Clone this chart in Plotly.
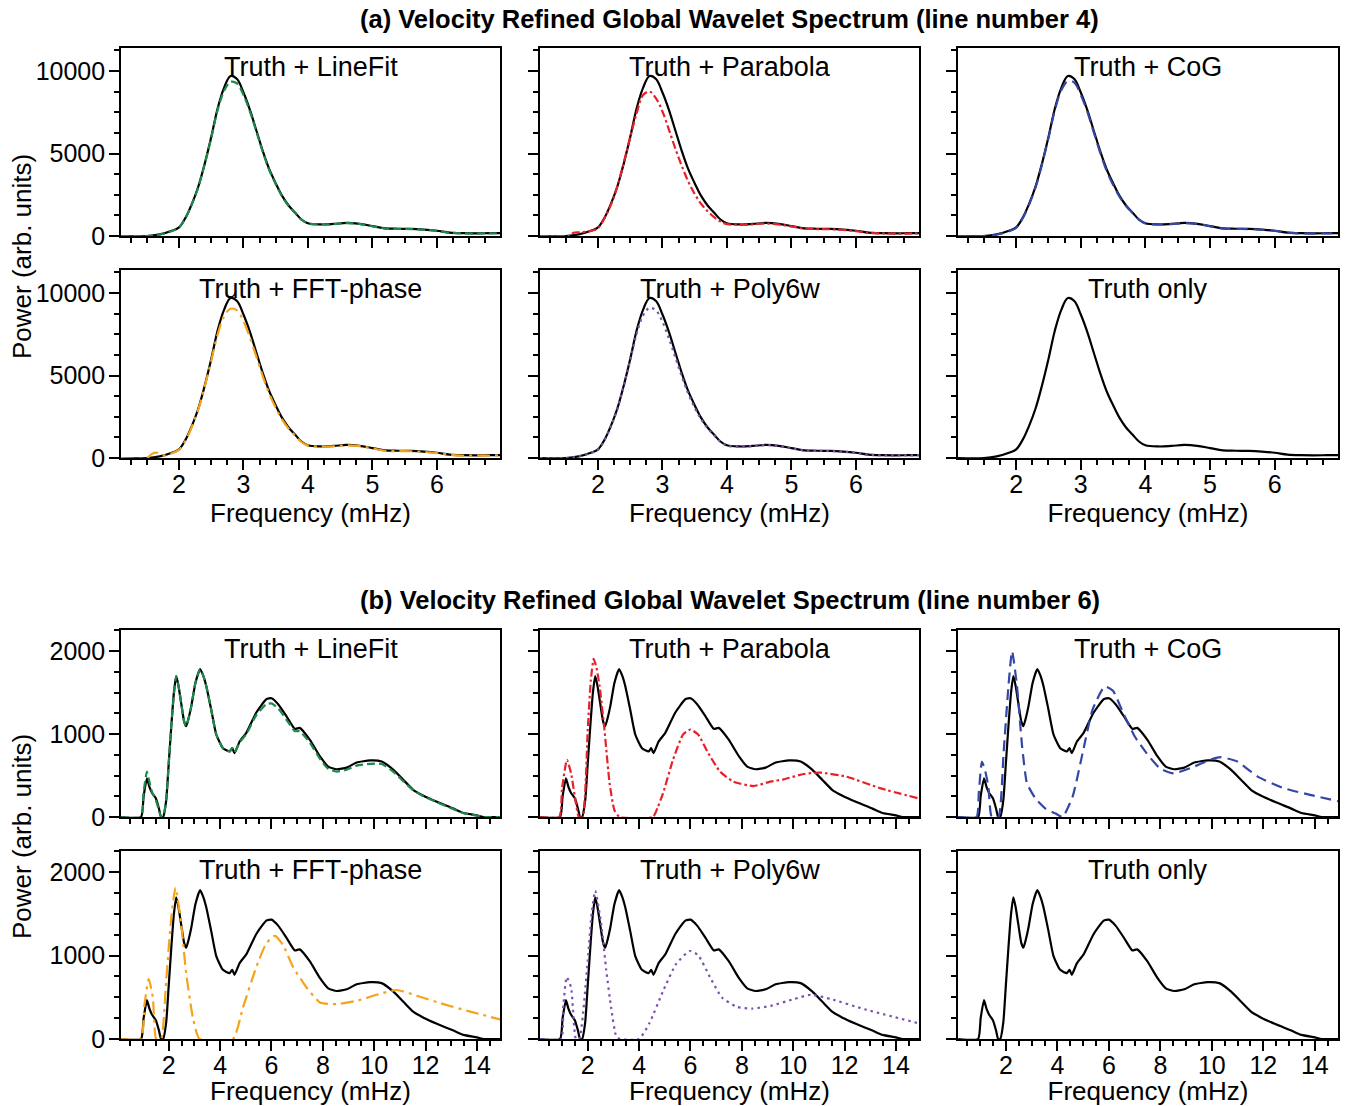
import plotly.graph_objects as go
from plotly.subplots import make_subplots

# ---------------- Data: line number 4 ----------------
freq4 = [1.1, 1.5, 1.7, 1.9, 2.0, 2.1, 2.2, 2.3, 2.4, 2.5, 2.6, 2.7, 2.8, 2.9, 3.0, 3.1, 3.2, 3.3, 3.4, 3.5,
         3.6, 3.7, 3.8, 3.9, 4.0, 4.2, 4.4, 4.6, 4.8, 5.0, 5.2, 5.4, 5.6, 5.8, 6.0, 6.2, 6.4, 6.6, 6.8, 6.98]
truth4 = [0, 0, 100, 330, 520, 1100, 1950, 3000, 4400, 6000, 7750, 9000, 9700, 9520, 8700, 7650, 6400, 5150, 4050, 3200,
          2430, 1850, 1420, 1000, 770, 700, 730, 790, 740, 600, 460, 440, 430, 390, 320, 210, 170, 160, 170, 180]
linefit4 = [0, 0, 90, 320, 510, 1090, 1930, 2980, 4380, 5950, 7650, 8800, 9350, 9250, 8550, 7550, 6330, 5100, 4000, 3150,
            2400, 1830, 1400, 990, 760, 700, 720, 780, 730, 590, 450, 430, 420, 380, 310, 200, 160, 150, 160, 170]
cog4 = [0, 0, 90, 310, 500, 1070, 1900, 2950, 4350, 5950, 7650, 8850, 9400, 9300, 8550, 7550, 6300, 5050, 3950, 3100,
        2380, 1820, 1400, 990, 760, 700, 720, 780, 730, 590, 450, 430, 420, 380, 310, 200, 160, 150, 160, 170]
poly4 = [0, 0, 90, 320, 500, 1080, 1920, 2980, 4380, 5950, 7550, 8650, 9100, 8950, 8250, 7250, 6100, 4950, 3900, 3050,
         2350, 1800, 1380, 980, 750, 690, 720, 780, 730, 590, 450, 430, 420, 380, 310, 200, 160, 150, 160, 170]

freq_par4 = [1.1, 1.5, 1.56, 1.62, 1.75, 1.9, 2.0, 2.1, 2.2, 2.3, 2.4, 2.5, 2.6, 2.7, 2.8, 2.9, 3.0, 3.1, 3.2, 3.3,
             3.4, 3.5, 3.6, 3.7, 3.8, 3.9, 4.0, 4.2, 4.4, 4.6, 4.8, 5.0, 5.2, 5.4, 5.6, 5.8, 6.0, 6.2, 6.4, 6.6, 6.8, 6.98]
par4 = [0, 0, 0, 200, 230, 320, 480, 1080, 1900, 3000, 4450, 6000, 7450, 8550, 8750, 8350, 7550, 6450, 5300, 4250,
        3300, 2550, 1950, 1500, 1150, 870, 720, 680, 710, 760, 700, 580, 450, 420, 410, 370, 300, 200, 160, 150, 150, 160]

freq_fft4 = [1.1, 1.5, 1.58, 1.65, 1.72, 1.8, 1.9, 2.0, 2.1, 2.2, 2.3, 2.4, 2.5, 2.6, 2.7, 2.8, 2.9, 3.0, 3.1, 3.2,
             3.3, 3.4, 3.5, 3.6, 3.7, 3.8, 3.9, 4.0, 4.2, 4.4, 4.6, 4.8, 5.0, 5.2, 5.4, 5.6, 5.8, 6.0, 6.2, 6.4,
             6.6, 6.8, 6.98]
fft4 = [0, 0, 250, 330, 200, 150, 300, 490, 1050, 1900, 2950, 4350, 5900, 7500, 8600, 9050, 8950, 8300, 7300, 6150,
        4950, 3900, 3050, 2330, 1780, 1370, 970, 750, 690, 710, 770, 720, 580, 440, 420, 410, 370, 300, 200, 150,
        140, 150, 160]

# ---------------- Data: line number 6 ----------------
freq6 = [0.15, 0.92, 1.02, 1.15, 1.25, 1.35, 1.5, 1.62, 1.7, 1.78, 1.9, 2.0, 2.1, 2.2, 2.29, 2.38, 2.48, 2.6, 2.68, 2.78,
         2.88, 3.04, 3.22, 3.35, 3.46, 3.65, 3.85, 4.11, 4.37, 4.47, 4.56, 4.76, 5.02, 5.41, 5.8, 6.0, 6.26, 6.58, 6.91, 7.1,
         7.49, 7.89, 8.21, 8.54, 8.93, 9.32, 9.84, 10.29, 10.75, 11.14, 11.53, 11.92, 12.44, 13.09, 13.48, 14.0, 14.27, 14.9]
truth6 = [0, 0, 250, 467, 360, 290, 223, 100, 0, 0, 200, 650, 1100, 1500, 1700, 1580, 1380, 1150, 1095, 1200,
          1340, 1620, 1785, 1700, 1580, 1300, 995, 830, 790, 830, 770, 910, 1015, 1260, 1420, 1432, 1360, 1217, 1063, 1075,
          933, 730, 608, 576, 596, 657, 682, 670, 568, 446, 325, 256, 183, 101, 49, 20, 0, 0]
linefit6 = [0, 0, 300, 548, 420, 300, 200, 80, 0, 0, 210, 660, 1110, 1480, 1700, 1580, 1380, 1150, 1095, 1200,
            1340, 1620, 1785, 1700, 1580, 1300, 995, 830, 790, 830, 780, 900, 1000, 1230, 1360, 1370, 1310, 1175, 1035, 1035,
            900, 700, 580, 548, 570, 620, 640, 640, 545, 430, 320, 250, 178, 95, 45, 18, 0, 0]

freq_par6 = [0.15, 0.89, 1.0, 1.19, 1.35, 1.54, 1.65, 1.8, 2.0, 2.12, 2.23, 2.34, 2.46, 2.65, 2.85, 3.04, 3.24, 4.54, 4.73, 4.93,
             5.32, 5.71, 6.0, 6.3, 6.69, 7.15, 7.67, 8.45, 9.11, 9.63, 10.41, 11.06, 12.07, 13.41, 14.9]
par6 = [0, 0, 350, 690, 527, 162, 0, 0, 1055, 1650, 1907, 1800, 1582, 1055, 406, 81, 0, 0, 120, 284,
        690, 994, 1055, 994, 771, 548, 426, 373, 426, 454, 519, 535, 487, 345, 223]

freq_cog6 = [0.15, 0.86, 0.95, 1.07, 1.2, 1.32, 1.45, 1.71, 1.91, 2.1, 2.24, 2.43, 2.63, 2.82, 3.15, 3.54, 3.93, 4.2, 4.59, 4.98,
             5.37, 5.84, 6.16, 6.55, 7.0, 7.46, 7.98, 8.51, 9.16, 9.93, 10.34, 10.99, 11.78, 12.82, 13.86, 14.9]
cog6 = [0, 0, 300, 669, 550, 365, 0, 0, 771, 1582, 2000, 1582, 852, 406, 223, 101, 41, 0, 243, 771,
        1298, 1575, 1521, 1258, 974, 771, 588, 527, 588, 690, 722, 669, 487, 345, 264, 190]

freq_fft6 = [0.15, 0.92, 1.05, 1.22, 1.38, 1.51, 1.7, 1.9, 2.09, 2.26, 2.48, 2.68, 2.94, 3.2, 4.5, 4.89, 5.41, 5.8, 6.13, 6.45,
             6.84, 7.36, 7.89, 8.54, 9.32, 10.1, 10.88, 11.66, 12.7, 13.74, 14.9]
fft6 = [0, 0, 400, 722, 499, 0, 0, 702, 1432, 1817, 1391, 783, 256, 0, 0, 377, 864, 1148, 1237, 1128,
        864, 621, 438, 418, 458, 531, 588, 519, 418, 329, 235]

freq_poly6 = [0.15, 0.96, 1.05, 1.18, 1.35, 1.54, 1.67, 2.0, 2.15, 2.29, 2.52, 2.72, 2.91, 3.11, 3.25, 4.0, 4.41, 4.94, 5.45, 5.97,
              6.3, 6.76, 7.22, 7.81, 8.4, 9.12, 10.03, 10.69, 11.47, 12.78, 14.95]
poly6 = [0, 0, 400, 742, 620, 0, 0, 945, 1500, 1777, 1391, 824, 377, 30, 0, 0, 195, 580, 905, 1055,
         1006, 742, 499, 385, 365, 397, 479, 531, 479, 357, 183]

panel_titles = ["Truth + LineFit", "Truth + Parabola", "Truth + CoG",
                "Truth + FFT-phase", "Truth + Poly6w", "Truth only"]
section_titles = ["(a) Velocity Refined Global Wavelet Spectrum (line number 4)",
                  "(b) Velocity Refined Global Wavelet Spectrum (line number 6)"]

GREEN, RED, BLUE, ORANGE, PURPLE = "#1c8a4a", "#e8202a", "#3446a6", "#f5a31a", "#7b52b0"
DASH_G, DASH_R, DASH_B, DASH_O, DASH_P = "8px,4px", "8px,3px,2.5px,3px", "11px,6px", "13px,5px,3px,5px", "2.5px,4px"

variants4 = [(freq4, linefit4, GREEN, DASH_G), (freq_par4, par4, RED, DASH_R), (freq4, cog4, BLUE, DASH_B),
             (freq_fft4, fft4, ORANGE, DASH_O), (freq4, poly4, PURPLE, DASH_P), None]
variants6 = [(freq6, linefit6, GREEN, DASH_G), (freq_par6, par6, RED, DASH_R), (freq_cog6, cog6, BLUE, DASH_B),
             (freq_fft6, fft6, ORANGE, DASH_O), (freq_poly6, poly6, PURPLE, DASH_P), None]

FONT = "Liberation Sans, Arial, sans-serif"
W, H = 1346, 1106

fig = make_subplots(rows=4, cols=3)

col_px = [(121, 500), (540, 919), (958, 1338)]
row_px = [(48, 236), (270, 458), (630, 817), (851, 1039)]

for sec, (truth_f, truth_v, variants, xr, yr, xdt, xminor, ydt, yminor, smooth) in enumerate([
        (freq4, truth4, variants4, [1.1, 6.98], [0, 11400], 1, 0.25, 5000, 1250, 1.0),
        (freq6, truth6, variants6, [0.14, 14.9], [0, 2255], 2, 0.5, 1000, 250, 0.5)]):
    for k in range(6):
        r = sec * 2 + k // 3 + 1
        c = k % 3 + 1
        fig.add_trace(go.Scatter(x=truth_f, y=truth_v, mode="lines",
                                 line=dict(color="black", width=2.2, shape="spline", smoothing=smooth),
                                 showlegend=False, hoverinfo="skip"), row=r, col=c)
        v = variants[k]
        if v is not None:
            fig.add_trace(go.Scatter(x=v[0], y=v[1], mode="lines",
                                     line=dict(color=v[2], width=2.2, dash=v[3], shape="spline", smoothing=smooth),
                                     showlegend=False, hoverinfo="skip"), row=r, col=c)
        idx = (r - 1) * 3 + c
        xa = "xaxis" if idx == 1 else f"xaxis{idx}"
        ya = "yaxis" if idx == 1 else f"yaxis{idx}"
        xs = "x" if idx == 1 else f"x{idx}"
        ys = "y" if idx == 1 else f"y{idx}"
        x0, x1 = col_px[c - 1]
        y0, y1 = row_px[r - 1]
        show_x = (r % 2 == 0)
        show_y = (c == 1)
        fig.layout[xa].update(domain=[x0 / W, x1 / W], range=xr, dtick=xdt, tick0=0, automargin=False,
                              showline=True, mirror=True, linecolor="black", linewidth=1.6,
                              ticks="outside", ticklen=10, tickwidth=1.5, tickcolor="black",
                              showticklabels=show_x, showgrid=False, zeroline=False, ticklabelstandoff=-7,
                              tickfont=dict(size=25, color="black", family=FONT),
                              minor=dict(dtick=xminor, tick0=0, ticks="outside", ticklen=5, tickwidth=1.5,
                                         tickcolor="black", showgrid=False))
        if show_x:
            fig.layout[xa].title = dict(text="Frequency (mHz)", font=dict(size=26, color="black", family=FONT),
                                        standoff=0)
        fig.layout[ya].update(domain=[1 - y1 / H, 1 - y0 / H], range=yr, dtick=ydt, tick0=0, automargin=False,
                              showline=True, mirror=True, linecolor="black", linewidth=1.6,
                              ticks="outside", ticklen=10, tickwidth=1.5, tickcolor="black",
                              showticklabels=show_y, showgrid=False, zeroline=False, tickformat="d",
                              ticklabelstandoff=-1,
                              tickfont=dict(size=25, color="black", family=FONT),
                              minor=dict(dtick=yminor, tick0=0, ticks="outside", ticklen=5, tickwidth=1.5,
                                         tickcolor="black", showgrid=False))
        fig.add_annotation(text=panel_titles[k], xref=f"{xs} domain", yref=f"{ys} domain",
                           x=0.5, y=1 - 19 / 188, xanchor="center", yanchor="middle", showarrow=False,
                           font=dict(size=27, color="black", family=FONT))

# Section titles
for sec, ypx in enumerate([19, 600]):
    fig.add_annotation(text=f"<b>{section_titles[sec]}</b>", xref="paper", yref="paper",
                       x=729.5 / W, y=1 - ypx / H, xanchor="center", yanchor="middle", showarrow=False,
                       font=dict(size=25.5, color="black", family=FONT))
# Y titles
for ypx in [257, 837]:
    fig.add_annotation(text="Power (arb. units)", xref="paper", yref="paper", textangle=-90,
                       x=22 / W, y=1 - ypx / H, xanchor="center", yanchor="middle", showarrow=False,
                       font=dict(size=26, color="black", family=FONT))

fig.update_layout(width=W, height=H, margin=dict(l=0, r=0, t=0, b=0),
                  plot_bgcolor="white", paper_bgcolor="white", showlegend=False,
                  font=dict(family=FONT, color="black"))

fig.write_html("out.html")
